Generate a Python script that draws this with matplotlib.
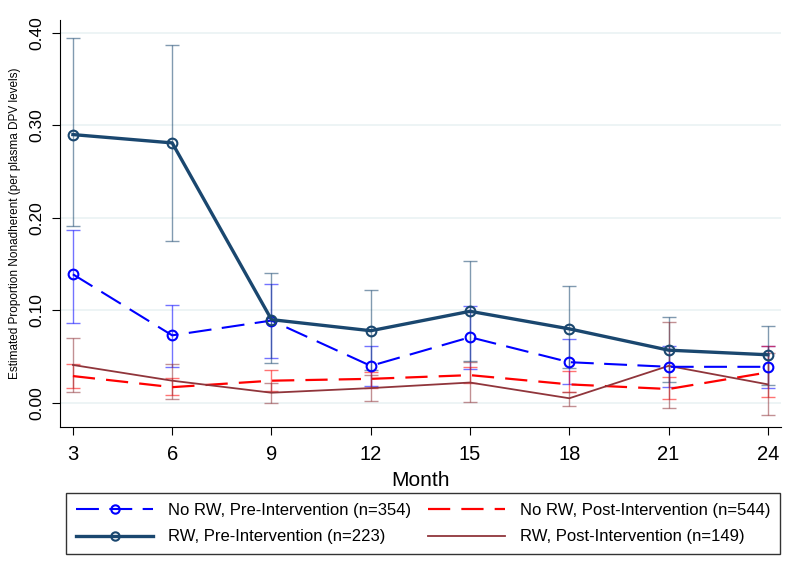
import matplotlib
matplotlib.use("Agg")
from matplotlib import pyplot as plt

plt.rcParams["font.family"] = ["Liberation Sans", "DejaVu Sans"]

months = [3, 6, 9, 12, 15, 18, 21, 24]

# No RW, Pre-Intervention
norw_pre = [0.139, 0.073, 0.089, 0.040, 0.071, 0.044, 0.039, 0.039]
norw_pre_lo = [0.086, 0.039, 0.049, 0.018, 0.037, 0.020, 0.017, 0.016]
norw_pre_hi = [0.187, 0.106, 0.129, 0.061, 0.105, 0.069, 0.061, 0.062]

# No RW, Post-Intervention
norw_post = [0.029, 0.017, 0.024, 0.026, 0.030, 0.020, 0.015, 0.033]
norw_post_lo = [0.016, 0.008, 0.013, 0.016, 0.021, 0.012, 0.004, 0.006]
norw_post_hi = [0.042, 0.027, 0.036, 0.033, 0.039, 0.034, 0.028, 0.062]

# RW, Pre-Intervention
rw_pre = [0.290, 0.281, 0.090, 0.078, 0.099, 0.080, 0.057, 0.052]
rw_pre_lo = [0.191, 0.175, 0.043, 0.036, 0.045, 0.038, 0.023, 0.019]
rw_pre_hi = [0.394, 0.387, 0.140, 0.122, 0.153, 0.126, 0.093, 0.083]

# RW, Post-Intervention
rw_post = [0.041, 0.024, 0.011, 0.016, 0.022, 0.005, 0.040, 0.020]
rw_post_lo = [0.012, 0.004, 0.000, 0.002, 0.001, -0.003, -0.006, -0.013]
rw_post_hi = [0.070, 0.042, 0.021, 0.030, 0.044, 0.012, 0.087, 0.054]

labels = ["No RW, Pre-Intervention (n=354)", "No RW, Post-Intervention (n=544)",
          "RW, Pre-Intervention (n=223)", "RW, Post-Intervention (n=149)"]

blue = "#0000ff"
red = "#ff0000"
navy = "#1a476f"
maroon = "#90353b"


def err(v, lo, hi):
    return [[a - b for a, b in zip(v, lo)], [c - a for a, c in zip(v, hi)]]


fig = plt.figure(figsize=(8.0, 5.67), dpi=100)
ax = fig.add_axes([0.075, 0.247, 0.901, 0.718])

for v, lo, hi, c in [(norw_pre, norw_pre_lo, norw_pre_hi, blue),
                     (norw_post, norw_post_lo, norw_post_hi, red),
                     (rw_pre, rw_pre_lo, rw_pre_hi, navy),
                     (rw_post, rw_post_lo, rw_post_hi, maroon)]:
    ax.errorbar(months, v, yerr=err(v, lo, hi), fmt="none", ecolor=c,
                alpha=0.55, elinewidth=1.0, capsize=5, capthick=1.0, zorder=2)

h1, = ax.plot(months, norw_pre, color=blue, lw=1.5, dashes=(11, 5), marker="o",
              ms=7, mfc="none", mew=1.5, zorder=4)
h2, = ax.plot(months, norw_post, color=red, lw=1.6, dashes=(10, 5), zorder=3)
h3, = ax.plot(months, rw_pre, color=navy, lw=2.4, marker="o",
              ms=7, mfc="none", mew=1.5, zorder=5)
h4, = ax.plot(months, rw_post, color=maroon, lw=1.3, zorder=3)

ax.set_xlim(2.61, 24.39)
ax.set_ylim(-0.026, 0.414)
ax.set_xticks(months)
ax.set_yticks([0.0, 0.1, 0.2, 0.3, 0.4])
ax.set_yticklabels(["0.00", "0.10", "0.20", "0.30", "0.40"], rotation=90, va="center")
ax.tick_params(axis="x", labelsize=14.5, length=6, pad=7, color="black")
ax.tick_params(axis="y", labelsize=12.5, length=6, pad=5, color="black")
ax.grid(axis="y", color="#eaf2f3", lw=1.2)
ax.set_axisbelow(True)
for s in ["top", "right"]:
    ax.spines[s].set_visible(False)

ax.set_xlabel("Month", fontsize=15, labelpad=5)
ax.set_ylabel("Estimated Proportion Nonadherent (per plasma DPV levels)", fontsize=8.5, labelpad=6)

leg = fig.legend([h1, h3, h2, h4], [labels[0], labels[2], labels[1], labels[3]],
                 ncol=2, loc="center", bbox_to_anchor=(0.529, 0.0767),
                 bbox_transform=fig.transFigure, fontsize=12, frameon=True,
                 fancybox=False, edgecolor="black", handlelength=4.6, numpoints=1,
                 columnspacing=1.0, handletextpad=0.9, borderpad=0.6, labelspacing=0.7)
leg.get_frame().set_linewidth(1.0)
for line in leg.get_lines():
    line.set_markersize(6)

fig.savefig("out.png", dpi=100)
